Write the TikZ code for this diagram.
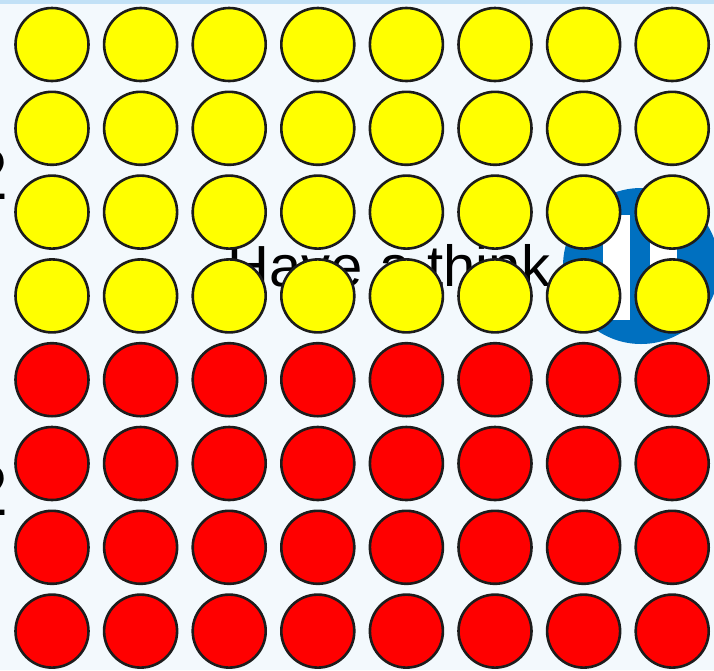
\documentclass[tikz,border=0pt]{standalone}
\usepackage{fontspec}
\setmainfont{Liberation Sans}
\usepackage{xcolor}
\definecolor{mSky}{HTML}{F3F9FD}
\definecolor{mEdge}{HTML}{C2E1F6}
\definecolor{mBlue}{HTML}{0070C0}
\definecolor{mYellow}{HTML}{FFFF00}
\definecolor{mRed}{HTML}{FF0000}
\definecolor{mInk}{HTML}{1C1C1C}

\begin{document}
\begin{tikzpicture}[x=1pt, y=-1pt,
  counter/.style={circle, draw=mInk, line width=2.6pt, minimum size=73pt, inner sep=0pt},
  digit/.style={font=\fontsize{72}{72}\selectfont, anchor=base east, inner sep=0pt}]
  \useasboundingbox (0,0) rectangle (714,670);
  \clip (0,0) rectangle (714,670);
  % slide background
  \fill[mSky] (0,0) rectangle (714,670);
  \fill[mEdge] (0,0) rectangle (714,4);
  % what sits behind the counters
  \fill[mBlue] (641,266) circle (78);
  \fill[white] (603,215) rectangle (630,320);
  \fill[white] (650,215) rectangle (677,320);
  \node[digit] (na) at (9,199) {2};
  \node[digit] (nb) at (9,515) {2};
  \node[font=\fontsize{58}{58}\selectfont, anchor=base, inner sep=0pt] (think) at (389,286) {Have a think};
  % the counters, yellow on top, red below
  \foreach \i in {0,...,7} {
    \foreach \j in {0,...,7} {
      \ifnum\i<4 \def\fillc{mYellow}\else \def\fillc{mRed}\fi
      \node[counter, fill=\fillc] (c-\i-\j) at ({52+88.6*\j},{44.5+83.8*\i}) {};
    }
  }
\end{tikzpicture}
\end{document}
